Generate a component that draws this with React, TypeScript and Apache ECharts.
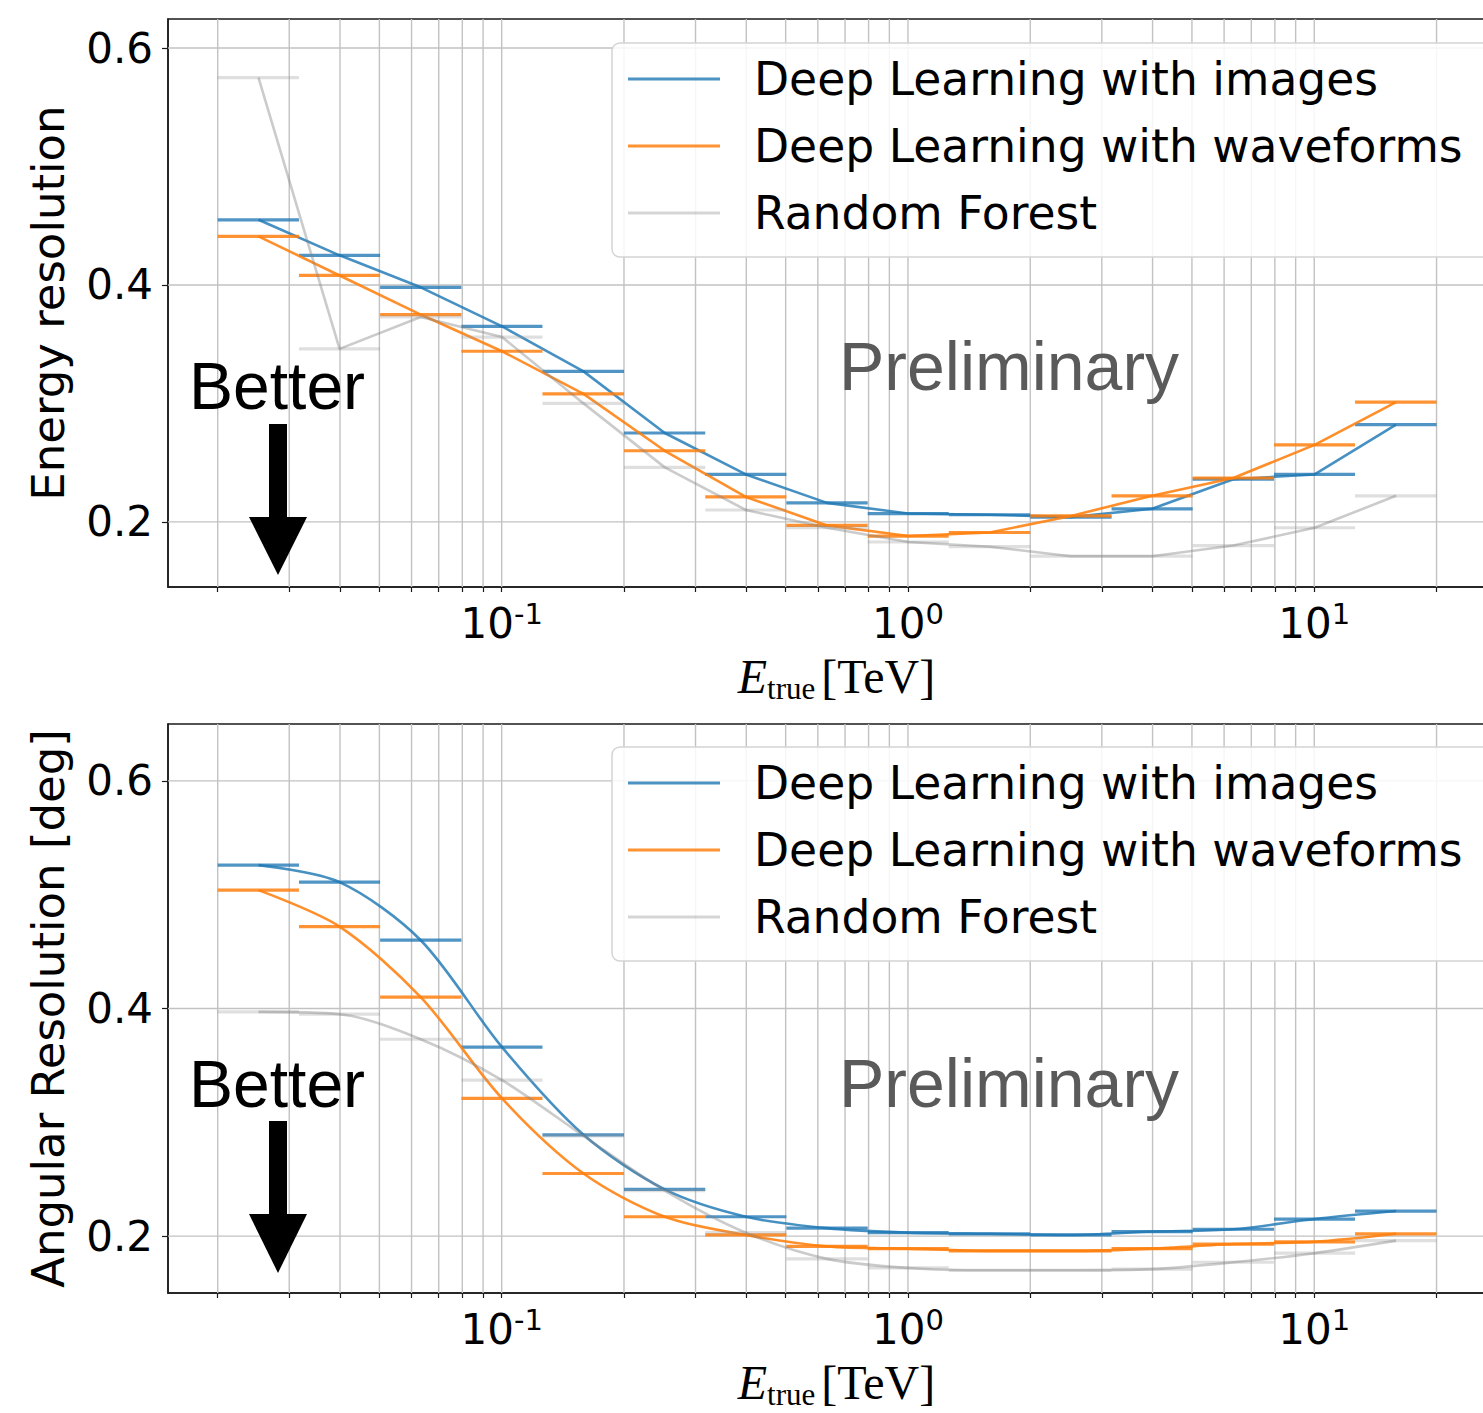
import React, { useEffect, useRef } from "react";
import * as echarts from "echarts";

// ---- data ----
const binEdges = [0.02, 0.0317, 0.0502, 0.0796, 0.126, 0.2, 0.317, 0.502, 0.796, 1.26, 2.0, 3.17, 5.02, 7.96, 12.6, 20];
const binCenters = [0.0252, 0.0399, 0.0632, 0.1002, 0.159, 0.252, 0.399, 0.632, 1.002, 1.59, 2.52, 3.99, 6.32, 10.02, 15.9];

const energyImages = [0.455, 0.425, 0.398, 0.365, 0.327, 0.275, 0.240, 0.216, 0.207, 0.206, 0.204, 0.211, 0.236, 0.240, 0.282];
const energyWaveforms = [0.441, 0.408, 0.375, 0.344, 0.308, 0.260, 0.221, 0.197, 0.188, 0.191, 0.205, 0.222, 0.237, 0.265, 0.301];
const energyForest = [0.575, 0.346, 0.373, 0.356, 0.300, 0.246, 0.210, 0.195, 0.183, 0.179, 0.171, 0.171, 0.180, 0.195, 0.222];

const angularImages = [0.526, 0.511, 0.460, 0.366, 0.289, 0.241, 0.217, 0.207, 0.203, 0.202, 0.201, 0.204, 0.206, 0.215, 0.222];
const angularWaveforms = [0.504, 0.472, 0.410, 0.321, 0.255, 0.217, 0.201, 0.191, 0.189, 0.187, 0.187, 0.189, 0.193, 0.195, 0.202];
const angularForest = [0.397, 0.395, 0.373, 0.337, 0.288, 0.240, 0.203, 0.180, 0.172, 0.170, 0.170, 0.171, 0.177, 0.185, 0.196];

const methodNames = ["Deep Learning with images", "Deep Learning with waveforms", "Random Forest"];
const gridTicks = [0.02, 0.03, 0.04, 0.05, 0.06, 0.07, 0.08, 0.09, 0.1, 0.2, 0.3, 0.4, 0.5, 0.6, 0.7, 0.8, 0.9, 1, 2, 3, 4, 5, 6, 7, 8, 9, 10, 20];
const majorTicks = [0.1, 1, 10];
const yTicks = [0.2, 0.4, 0.6];
const yTitles = ["Energy resolution", "Angular Resolution [deg]"];

// ---- styles ----
const lineColors = ["rgba(31,119,180,0.82)", "rgba(255,127,14,0.88)", "rgba(130,130,130,0.42)"];
const barColors = ["rgba(31,119,180,0.78)", "rgba(255,127,14,0.85)", "rgba(150,150,150,0.3)"];
const legendColors = ["rgba(31,119,180,0.8)", "rgba(255,127,14,0.85)", "rgba(150,150,150,0.4)"];
const gridColor = "#c2c2c2";
const X_MIN = 0.01509;
const X_MAX = 29.48;

const panels = [
  { top: 19, height: 568, yMin: 0.145, yMax: 0.6245, smooth: false, values: [energyImages, energyWaveforms, energyForest], legendTop: 43, textY: 386, prelimY: 366, arrowTop: 424, headTop: 517, headTip: 575 },
  { top: 724, height: 569, yMin: 0.15, yMax: 0.65, smooth: 0.3, values: [angularImages, angularWaveforms, angularForest], legendTop: 747, textY: 1084, prelimY: 1083, arrowTop: 1121, headTop: 1214, headTip: 1273 },
];

function buildOption() {
  const series: any[] = [];
  panels.forEach((p, pi) => {
    series.push({
      type: "custom",
      xAxisIndex: pi,
      yAxisIndex: pi,
      silent: true,
      z: 1,
      data: gridTicks.map((v) => [v, yTicks[0]]),
      encode: { x: 0, y: 1 },
      renderItem: (params: any, api: any) => {
        const cs = params.coordSys;
        const x = api.coord([api.value(0), api.value(1)])[0];
        return { type: "line", shape: { x1: x, y1: cs.y, x2: x, y2: cs.y + cs.height }, style: { stroke: gridColor, lineWidth: 1.4 } };
      },
    });
    series.push({
      type: "custom",
      xAxisIndex: pi,
      yAxisIndex: pi,
      silent: true,
      z: 1,
      data: yTicks.map((v) => [majorTicks[1], v]),
      encode: { x: 0, y: 1 },
      renderItem: (params: any, api: any) => {
        const cs = params.coordSys;
        const y = api.coord([api.value(0), api.value(1)])[1];
        return { type: "line", shape: { x1: cs.x, y1: y, x2: cs.x + cs.width, y2: y }, style: { stroke: gridColor, lineWidth: 1.4 } };
      },
    });
    [2, 0, 1].forEach((m) => {
      const vals = p.values[m];
      series.push({
        name: methodNames[m],
        type: "line",
        xAxisIndex: pi,
        yAxisIndex: pi,
        data: binCenters.map((c, i) => [c, vals[i]]),
        smooth: p.smooth,
        symbol: "none",
        lineStyle: { color: lineColors[m], width: 2.6 },
        itemStyle: { color: legendColors[m] },
        z: 3 + m,
      });
      series.push({
        type: "custom",
        xAxisIndex: pi,
        yAxisIndex: pi,
        silent: true,
        z: 3 + m,
        data: vals.map((v, i) => [binEdges[i], binEdges[i + 1], v]),
        encode: { x: [0, 1], y: 2 },
        renderItem: (params: any, api: any) => {
          const a = api.coord([api.value(0), api.value(2)]);
          const b = api.coord([api.value(1), api.value(2)]);
          return { type: "line", shape: { x1: a[0], y1: a[1], x2: b[0], y2: b[1] }, style: { stroke: barColors[m], lineWidth: 3.2 } };
        },
      });
    });
  });

  const graphic: any[] = [];
  panels.forEach((p) => {
    graphic.push({
      type: "text",
      x: 189,
      y: p.textY,
      z: 20,
      style: { text: "Better", fontSize: 66, fontFamily: "Liberation Sans", fill: "#000", verticalAlign: "middle", align: "left" },
    });
    graphic.push({ type: "rect", z: 20, shape: { x: 269, y: p.arrowTop, width: 18, height: p.headTop - p.arrowTop + 1 }, style: { fill: "#000" } });
    graphic.push({ type: "polygon", z: 20, shape: { points: [[249, p.headTop], [307, p.headTop], [278, p.headTip]] }, style: { fill: "#000" } });
    graphic.push({
      type: "text",
      x: 839,
      y: p.prelimY,
      z: 20,
      style: { text: "Preliminary", fontSize: 68, fontFamily: "Liberation Sans", fill: "#5a5a5a", verticalAlign: "middle", align: "left" },
    });
  });

  return {
    animation: false,
    backgroundColor: "#fff",
    grid: panels.map((p) => ({
      left: 168,
      width: 1337,
      top: p.top,
      height: p.height,
      outerBoundsMode: "none",
      containLabel: false,
      show: true,
      borderColor: "#1a1a1a",
      borderWidth: 1.5,
      backgroundColor: "transparent",
    })),
    legend: panels.map((p) => ({
      orient: "vertical",
      left: 612,
      top: p.legendTop,
      data: methodNames.map((n) => ({ name: n, icon: "rect" })),
      itemWidth: 92,
      itemHeight: 3,
      itemGap: 17,
      padding: [11, 30, 19, 16],
      backgroundColor: "rgba(255,255,255,0.85)",
      borderColor: "#d4d4d4",
      borderWidth: 1.5,
      borderRadius: 8,
      selectedMode: false,
      textStyle: { fontFamily: "DejaVu Sans", fontSize: 45.6, color: "#000", lineHeight: 50, padding: [0, 0, 0, 29] },
      z: 15,
    })),
    xAxis: panels.map((p, pi) => ({
      type: "log",
      logBase: 10,
      gridIndex: pi,
      min: X_MIN,
      max: X_MAX,
      name: "{e|E}{sub|true}{b|[TeV]}",
      nameLocation: "middle",
      nameGap: 61,
      nameTextStyle: {
        color: "#000",
        rich: {
          e: { fontFamily: "Liberation Serif", fontStyle: "italic", fontSize: 48, lineHeight: 56, color: "#000" },
          sub: { fontFamily: "Liberation Serif", fontSize: 31, lineHeight: 30, verticalAlign: "bottom", color: "#000" },
          b: { fontFamily: "Liberation Serif", fontSize: 48, lineHeight: 56, color: "#000", padding: [0, 0, 0, 6] },
        },
      },
      axisLine: { show: true, lineStyle: { color: "#1a1a1a", width: 1.5 } },
      axisTick: { show: true, customValues: gridTicks, length: 5, lineStyle: { color: "#1a1a1a", width: 1.2 } },
      axisLabel: {
        customValues: majorTicks,
        margin: 12,
        formatter: (v: number) => {
          const e = Math.round(Math.log10(v));
          return "{b|10}{s|" + (e < 0 ? "-" + -e : String(e)) + "}";
        },
        rich: {
          b: { fontFamily: "DejaVu Sans", fontSize: 42, lineHeight: 48, color: "#000" },
          s: { fontFamily: "DejaVu Sans", fontSize: 29, lineHeight: 29, verticalAlign: "top", color: "#000" },
        },
      },
      splitLine: { show: false },
      minorTick: { show: false },
    })),
    yAxis: panels.map((p, pi) => ({
      type: "value",
      gridIndex: pi,
      min: p.yMin,
      max: p.yMax,
      name: yTitles[pi],
      nameLocation: "middle",
      nameRotate: 90,
      nameGap: 97,
      nameTextStyle: { fontFamily: "DejaVu Sans", fontSize: 45, color: "#000" },
      axisLine: { show: true, lineStyle: { color: "#1a1a1a", width: 1.5 } },
      axisTick: { show: true, customValues: yTicks, length: 6, lineStyle: { color: "#1a1a1a", width: 1.2 } },
      axisLabel: {
        customValues: yTicks,
        formatter: (v: number) => v.toFixed(1),
        fontFamily: "DejaVu Sans",
        fontSize: 42,
        color: "#000",
        margin: 15,
      },
      splitLine: { show: false },
    })),
    series,
    graphic,
  };
}

export default function App() {
  const ref = useRef<HTMLDivElement>(null);
  useEffect(() => {
    if (!ref.current) return;
    const chart = echarts.init(ref.current, undefined, { renderer: "svg" });
    chart.setOption(buildOption() as any);
    return () => chart.dispose();
  }, []);
  return <div ref={ref} style={{ position: "absolute", left: 0, top: 0, width: 1483, height: 1413, background: "#fff" }} />;
}
